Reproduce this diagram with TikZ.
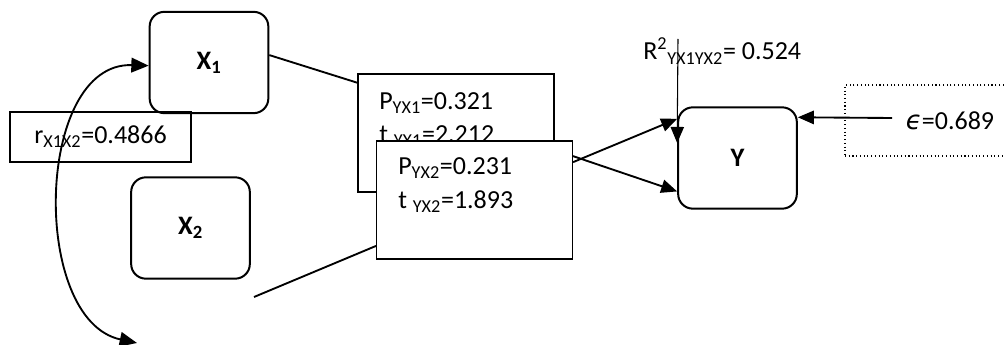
\documentclass[tikz,border=0pt]{standalone}
\usepackage{fontspec}
\setmainfont{Carlito}
\newfontfamily\epsfont{DejaVu Sans}
\usetikzlibrary{arrows.meta}

\begin{document}
\fontsize{19.5}{25}\selectfont
\begin{tikzpicture}[x=0.75pt, y=-0.75pt, >={Triangle[length=12pt,width=10pt]},
  var/.style={draw, rounded corners=11pt, line width=1.5pt, minimum width=89pt, minimum height=76pt, inner sep=0pt, font=\fontsize{20}{24}\selectfont\bfseries},
  coef/.style={draw, fill=white, line width=0.8pt, minimum width=147pt, minimum height=88.5pt},
  coeftext/.style={anchor=west, align=left, inner sep=0pt},
  path/.style={line width=1.4pt}]

  \useasboundingbox (0,0) rectangle (1004,345);

  % Variables
  \node[var] (x1) at (209,62.5) {X\textsubscript{1}};
  \node[var] (x2) at (190.5,228) {X\textsubscript{2}};
  \node[var] (y) at (737.5,158) {Y};

  % Correlation box
  \node[draw, line width=0.8pt, minimum width=135.75pt, minimum height=37.5pt] (rbox) at (100.5,137) {r\textsubscript{X1X2}=0.4866};

  % Path coefficient boxes (second one on top of the first)
  \node[coef] (p1box) at (456,133) {};
  \node[coeftext] (p1txt) at (379,119.5) {P\textsubscript{YX1}=0.321\\t \textsubscript{YX1}=2.212};
  \node[coef] (p2box) at (474.5,200) {};
  \node[coeftext] (p2txt) at (398,185) {P\textsubscript{YX2}=0.231\\t \textsubscript{YX2}=1.893};

  % R square and residual
  \node[anchor=base west, inner sep=0pt] (r2) at (643,60) {R\textsuperscript{2}\textsubscript{YX1YX2}= 0.524};
  \node[draw, dotted, line width=0.8pt, minimum width=157.5pt, minimum height=53.25pt] (eps) at (950,120.5) {{\epsfont\itshape ϵ}=0.689};

  % Free ends
  \coordinate (x2end) at (254,297);
  \coordinate (r2top) at (678,39);
  \coordinate (epsstart) at (892,118);
  \coordinate (curveend) at (137,343);

  % Connectors
  \draw[path] (x1.7) -- (p1box.153);
  \draw[path] (x2end) -- (p2box.205);
  \draw[path, ->] (p2box.21) -- (y.147);
  \draw[path, ->] (p2box.24) -- (y.209);
  \draw[line width=0.8pt, ->] (r2top) -- (y.166);
  \draw[path, ->] (epsstart) -- (y.34);

  % Correlation curve
  \draw[path, <->, >={Triangle[length=13pt,width=11pt]}] (x1.183) .. controls (35,62) and (30,320) .. (curveend);
\end{tikzpicture}
\end{document}
